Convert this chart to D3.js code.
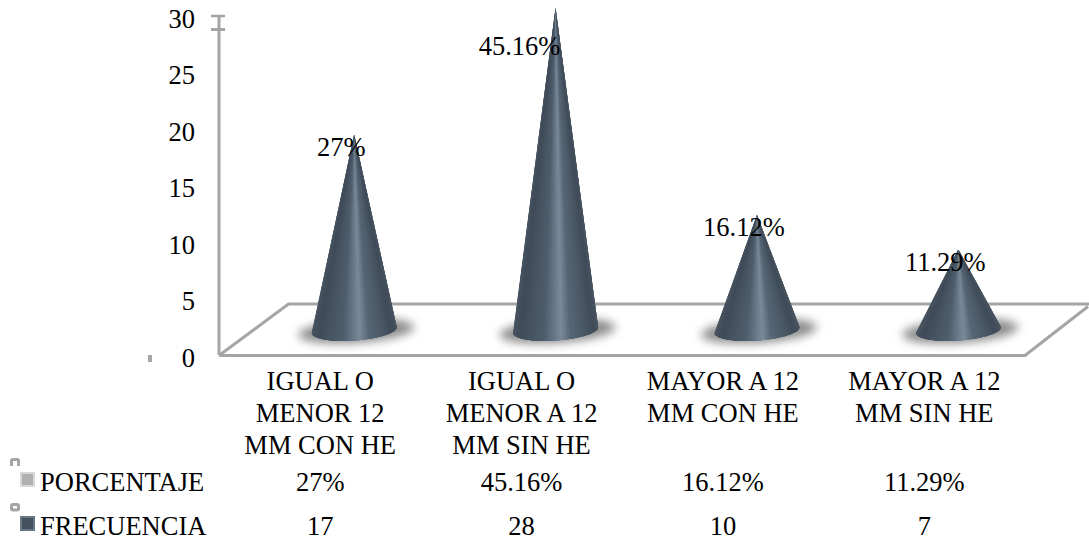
<!DOCTYPE html>
<html>
<head>
<meta charset="utf-8">
<script src="https://cdn.jsdelivr.net/npm/d3@7"></script>
<style>
  html, body { margin: 0; background: #fff; overflow: hidden; }
  svg { display: block; }
  text { font-family: "Liberation Serif", serif; font-size: 26.5px; fill: #000; }
</style>
</head>
<body>
<svg id="chart" width="1089" height="544"></svg>
<script>
var categories = [
  ['IGUAL O', 'MENOR 12', 'MM CON HE'],
  ['IGUAL O', 'MENOR A 12', 'MM SIN HE'],
  ['MAYOR A 12', 'MM CON HE'],
  ['MAYOR A 12', 'MM SIN HE']
]
var frecuencia = [17, 28, 10, 7]
var porcentaje = ['27%', '45.16%', '16.12%', '11.29%']
var yTicks = [0, 5, 10, 15, 20, 25, 30]

var svg = d3.select('#chart')
  , defs = svg.append('defs')
  , grey = '#a5a5a5'

var x = d3.scaleBand().domain(d3.range(categories.length)).range([219.5, 1025])
  , yAxis = d3.scaleLinear().domain([0, 30]).range([358, 19])
  , yCone = d3.scaleLinear().domain([0, 30]).range([330, -15])

var coneSkew = 34
  , rx = 42.6, ry = 10.5, tilt = -4 * Math.PI / 180

var coneX = function(i) { return x(i) + x.bandwidth() / 2 + coneSkew }

// Shading across the cone, 0 is the left edge of the base and 1 the right one
var shade = d3.scaleLinear()
  .domain([0, 0.18, 0.4, 0.47, 0.53, 0.6, 0.82, 1])
  .range(['#4a5662', '#3f4b58', '#4e5d6c', '#637484', '#7a8a99', '#566676', '#404c59', '#4b5763'])

defs.append('filter').attr('id', 'soft')
  .attr('x', '-30%').attr('y', '-80%').attr('width', '160%').attr('height', '260%')
  .append('feGaussianBlur').attr('stdDeviation', 5)

// Floor of the plot and the value axis
var floor = svg.append('g').attr('fill', 'none').attr('stroke', grey).attr('stroke-width', 3)
floor.append('path')
  .attr('d', 'M219,355.5 L288.5,304 H1089 M1088,306.5 L1025,355.5 H219')
floor.append('path').attr('d', 'M219,15 V355')
floor.append('path').attr('d', 'M211,16 H225').attr('stroke-width', 2.5)
floor.append('path').attr('d', 'M211,29.5 H225')
svg.append('rect').attr('x', 148).attr('y', 355).attr('width', 4).attr('height', 7).attr('fill', grey)

var axis = d3.axisLeft(yAxis).tickValues(yTicks).tickSize(0).tickPadding(0)
svg.append('g').attr('class', 'y-axis').attr('transform', 'translate(195,0)').call(axis)
  .call(function(g) { g.select('.domain').remove() })
  .selectAll('text').attr('fill', '#000').style('font-family', '"Liberation Serif", serif').style('font-size', '26.5px')

// Point on the front rim of the base, t goes from the left edge to the right one
var rim = function(i, t) {
  var a = Math.PI * (1 - t)
    , px = rx * Math.cos(a)
    , py = ry * Math.sin(a)
  return [
    coneX(i) + px * Math.cos(tilt) - py * Math.sin(tilt),
    yCone(0) + px * Math.sin(tilt) + py * Math.cos(tilt)
  ]
}

var cones = svg.selectAll('g.cone').data(frecuencia)
  .enter().append('g').classed('cone', true)

cones.append('ellipse')
  .attr('cx', 0).attr('cy', 0)
  .attr('transform', function(d, i) {
    return 'translate(' + (coneX(i) + 2) + ',' + (yCone(0) + 1) + ') rotate(-4)'
  })
  .attr('rx', 58).attr('ry', 12)
  .attr('fill', '#8c8c8c')
  .attr('filter', 'url(#soft)')

// Each cone is a fan of slices from the tip to the rim, so the highlight narrows upwards.
// A slice runs on under the next ones to keep the seams from showing.
var step = 1 / 70
  , slices = d3.range(0, 1, step)
cones.each(function(d, i) {
  var tip = [coneX(i), yCone(d)]
  d3.select(this).selectAll('path.slice').data(slices)
    .enter().append('path').classed('slice', true)
    .attr('d', function(t) {
      var pts = [tip]
      for (var s = t; s < Math.min(1, t + 4 * step); s += step / 2) pts.push(rim(i, s))
      pts.push(rim(i, Math.min(1, t + 4 * step)))
      return d3.line()(pts) + 'Z'
    })
    .attr('fill', function(t) { return shade(t) })
})

// Value labels sit just under the tips, further down on the tall cone
cones.append('text')
  .attr('text-anchor', 'middle')
  .attr('x', function(d, i) { return coneX(i) + (d > 20 ? -36 : -13) })
  .attr('y', function(d) { return yCone(d) + (d > 20 ? 47 : 21) })
  .text(function(d, i) { return porcentaje[i] })

// Category names
svg.selectAll('text.category').data(categories)
  .enter().append('text').classed('category', true)
  .attr('text-anchor', 'middle')
  .attr('transform', function(d, i) { return 'translate(' + (x(i) + x.bandwidth() / 2) + ',390)' })
  .selectAll('tspan').data(function(d) { return d })
  .enter().append('tspan')
  .attr('x', 0)
  .attr('y', function(d, j) { return j * 32 })
  .text(function(d) { return d })

// Data table under the chart
var rows = [
  {name: 'PORCENTAJE', values: porcentaje, key: '#b0b0b0', edge: '#d8d8d8', y: 491},
  {name: 'FRECUENCIA', values: frecuencia, key: '#445260', edge: '#6a7683', y: 535}
]
var row = svg.selectAll('g.row').data(rows).enter().append('g').classed('row', true)
row.append('rect')
  .attr('x', 21).attr('y', function(d) { return d.y - 18 })
  .attr('width', 13).attr('height', 13)
  .attr('fill', function(d) { return d.key })
  .attr('stroke', function(d) { return d.edge })
  .attr('stroke-width', 2)
row.append('text').attr('x', 40).attr('y', function(d) { return d.y }).text(function(d) { return d.name })
row.selectAll('text.value').data(function(d) { return d.values.map(function(v) { return {v: v, y: d.y} }) })
  .enter().append('text').classed('value', true)
  .attr('text-anchor', 'middle')
  .attr('x', function(d, i) { return x(i) + x.bandwidth() / 2 })
  .attr('y', function(d) { return d.y })
  .text(function(d) { return d.v })

// Small handles beside the table
svg.append('path').attr('d', 'M11.5,466 V460.5 Q11.5,459.5 13,459.5 H17 Q18.5,459.5 18.5,460.5 V466')
  .attr('fill', 'none').attr('stroke', grey).attr('stroke-width', 3)
svg.append('rect').attr('x', 11.5).attr('y', 504.5).attr('width', 7).attr('height', 5.5).attr('rx', 1.5)
  .attr('fill', 'none').attr('stroke', grey).attr('stroke-width', 3)
</script>
</body>
</html>
